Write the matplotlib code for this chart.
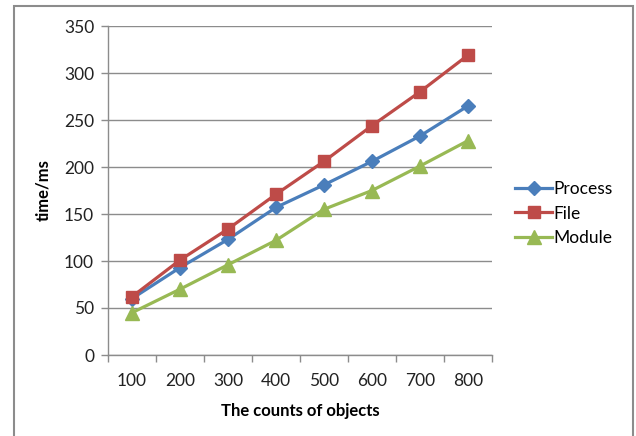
"""Excel-style line chart: time vs counts of objects."""

import matplotlib
matplotlib.use("Agg")
import matplotlib.pyplot as plt
from matplotlib.patches import Rectangle

counts = ["100", "200", "300", "400", "500", "600", "700", "800"]
process = [60, 93, 123, 157, 181, 206, 233, 265]
file_ = [62, 101, 134, 171, 206, 244, 280, 319]
module = [45, 70, 96, 122, 155, 175, 201, 228]

plt.rcParams["font.family"] = ["Lato", "DejaVu Sans"]

fig = plt.figure(figsize=(6.36, 4.36), dpi=100)
fig.patch.set_facecolor("white")
# outer chart frame
fig.patches.append(Rectangle((14 / 636, -0.05), 619 / 636, 1.05 - 6 / 436,
                             transform=fig.transFigure, fill=False,
                             edgecolor="#8c8c8c", linewidth=1.5))

ax = fig.add_axes([108 / 636, 1 - 355 / 436, 384 / 636, 329 / 436])
x = list(range(len(counts)))

ax.plot(x, process, color="#4A7EBB", linewidth=2.3, marker="D", markersize=7, label="Process")
ax.plot(x, file_, color="#BE4B48", linewidth=2.3, marker="s", markersize=9, label="File")
ax.plot(x, module, color="#98B954", linewidth=2.3, marker="^", markersize=10, label="Module")

ax.set_xlim(-0.5, len(counts) - 0.5)
ax.set_ylim(0, 350)
ax.set_yticks(range(0, 351, 50))
ax.set_xticks(x)
ax.set_xticklabels(counts)
ax.set_xticks([i - 0.5 for i in range(len(counts) + 1)], minor=True)
ax.tick_params(axis="x", which="major", length=0, pad=13, labelsize=12.5, colors="#222222")
ax.tick_params(axis="x", which="minor", length=5, color="#8c8c8c", width=1)
ax.tick_params(axis="y", length=5, color="#8c8c8c", width=1, pad=5, labelsize=12.5, labelcolor="#222222")

ax.grid(True, axis="y", color="#8c8c8c", linewidth=1)
ax.set_axisbelow(True)
for s in ["top", "right"]:
    ax.spines[s].set_visible(False)
for s in ["left", "bottom"]:
    ax.spines[s].set_color("#8c8c8c")
    ax.spines[s].set_linewidth(1)

ax.set_ylabel("time/ms", fontsize=12, fontweight="bold", labelpad=9)
ax.set_xlabel("The counts of objects", fontsize=12, fontweight="bold", labelpad=10)

ax.legend(loc="center left", bbox_to_anchor=(1.02, 0.43), frameon=False,
          fontsize=12.5, handlelength=2.1, labelspacing=0.5, handletextpad=0.1)

fig.savefig("out.png", dpi=100)
